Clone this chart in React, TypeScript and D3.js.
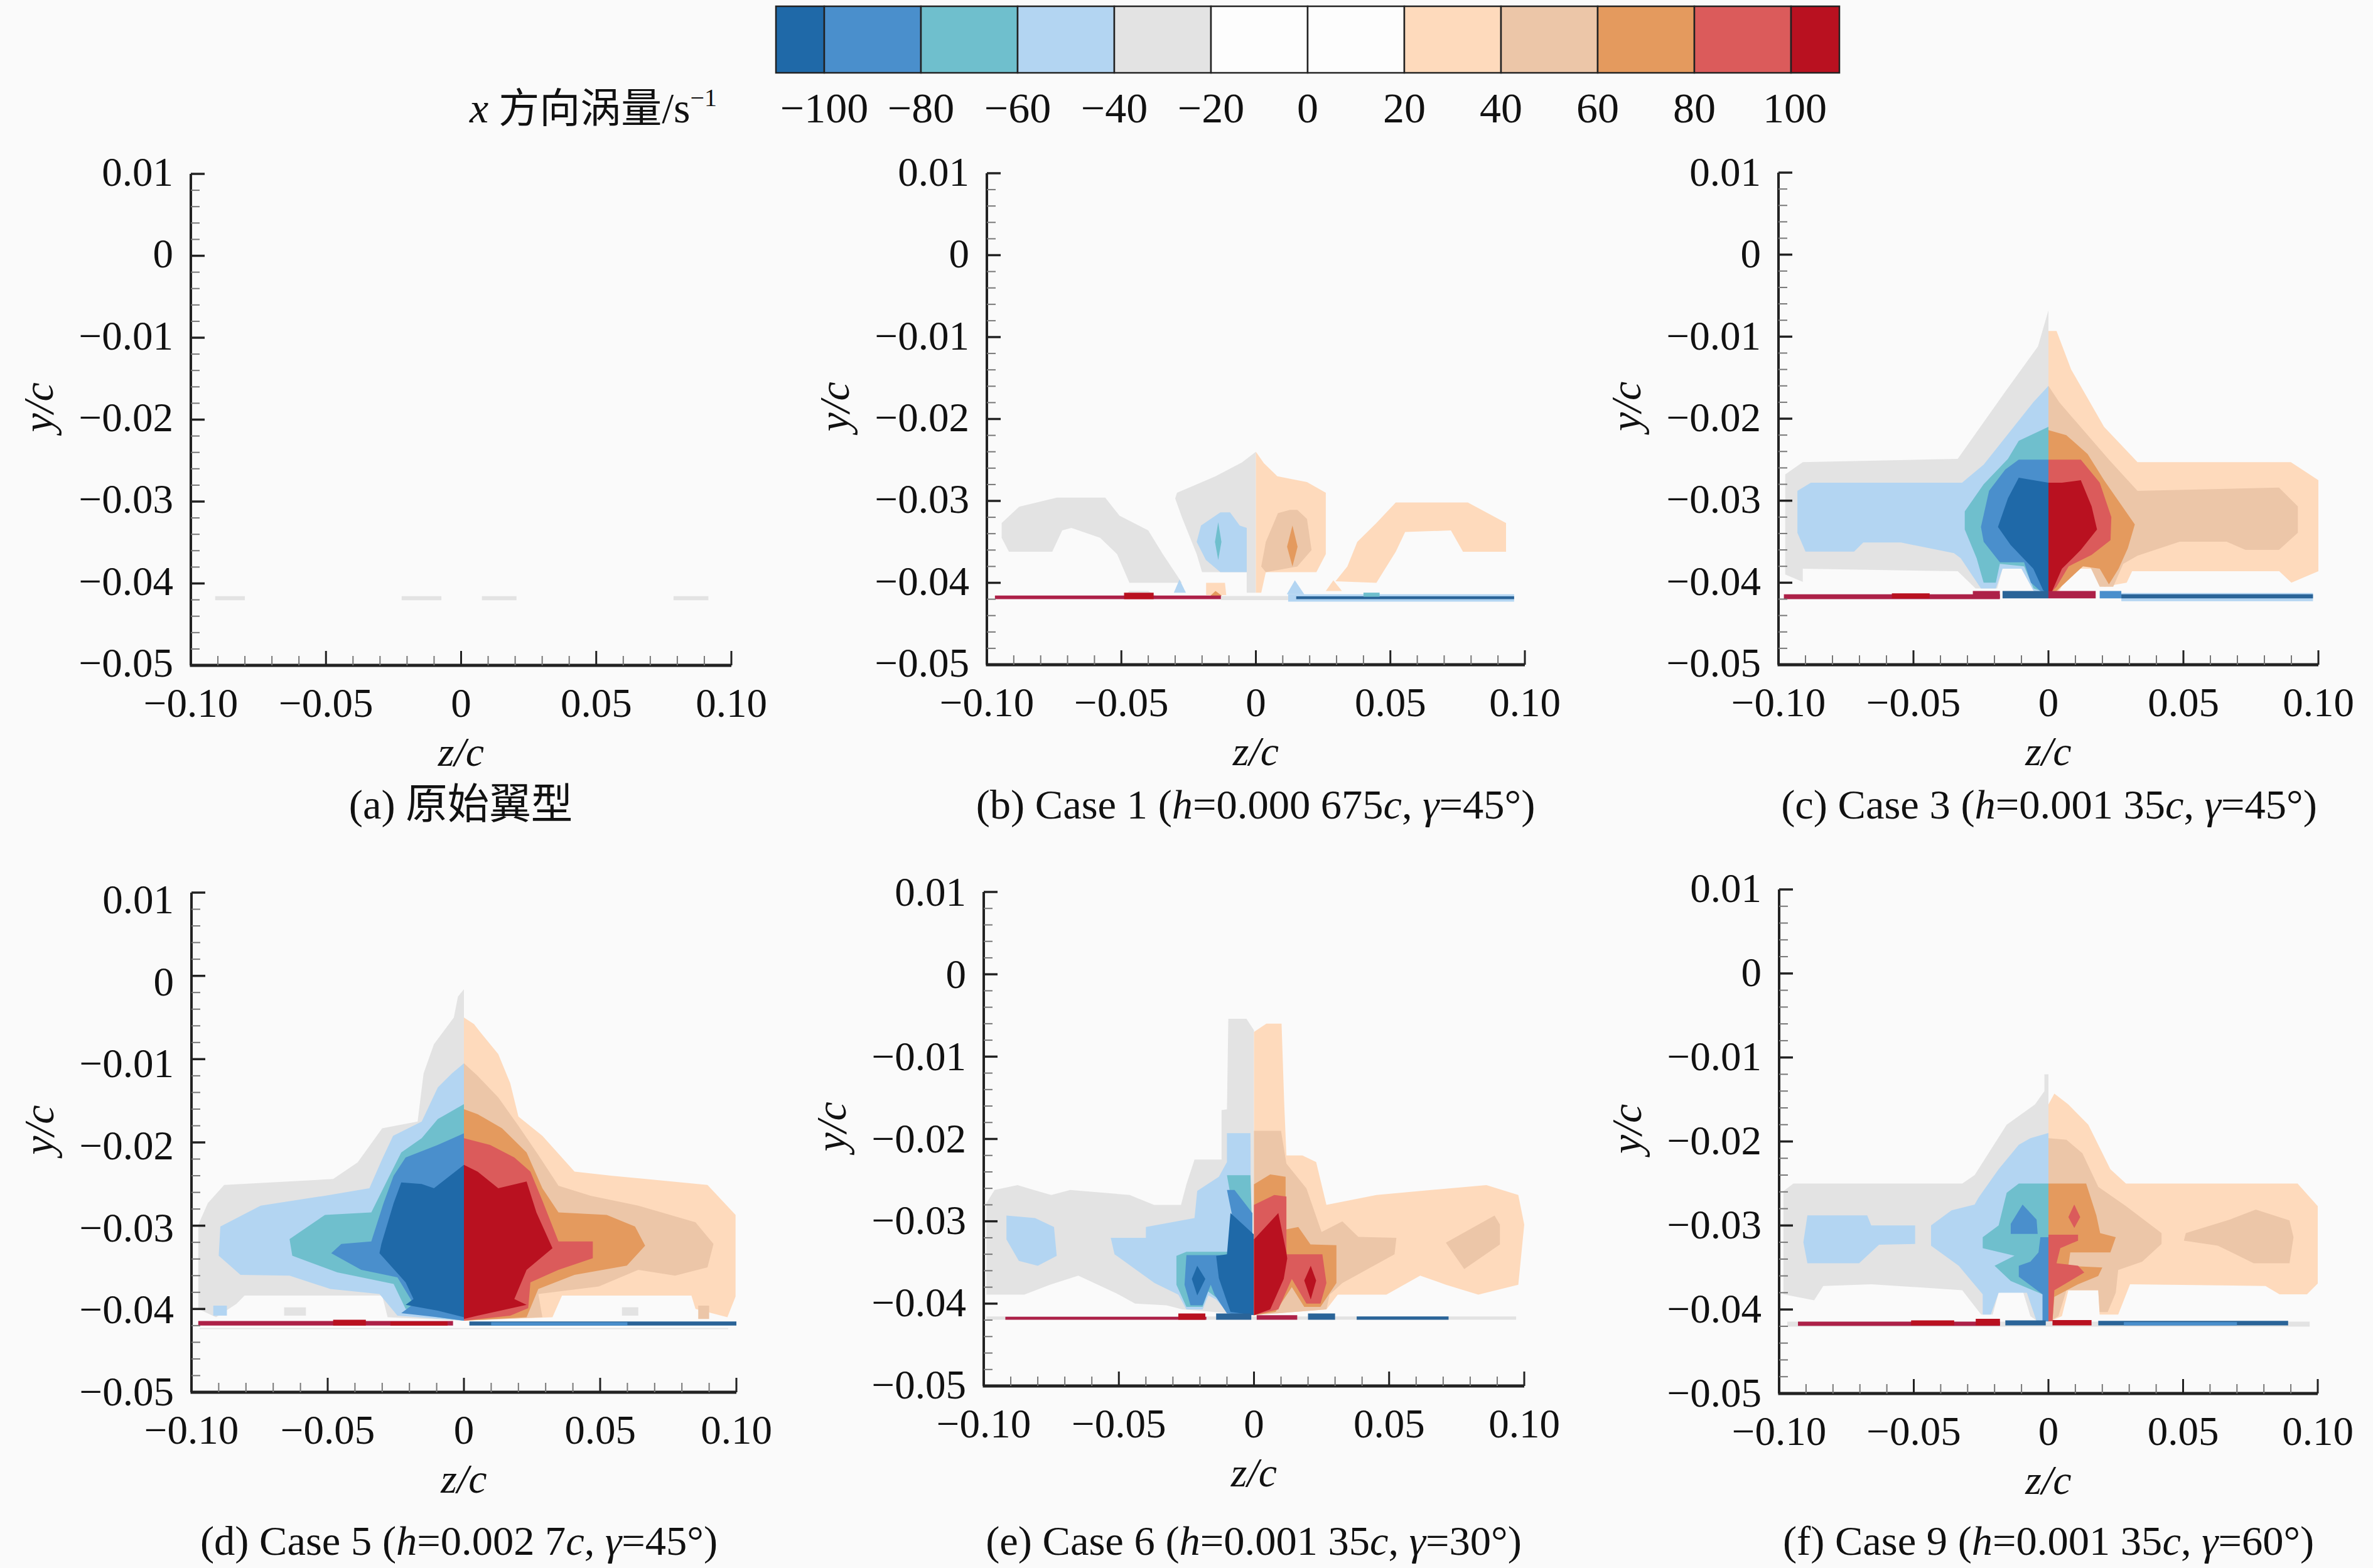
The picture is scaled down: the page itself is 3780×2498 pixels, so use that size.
import React from "react";
import * as d3 from "d3";

// ---------- colour levels (index = contour band) ----------
const levelColors = ["#1f69a8", "#4a8fcc", "#6fbfcd", "#b3d5f2", "#e3e3e3", "#fdfdfd", "#fdfdfd", "#fedabc", "#ecc6a8", "#e49a5e", "#db5b5b", "#b91120", "#ad2148", "#2a6498"];
const levelBounds = [-110, -100, -80, -60, -40, -20, 0, 20, 40, 60, 80, 100, 110];
const legendTicks = [-100, -80, -60, -40, -20, 0, 20, 40, 60, 80, 100];
const xTicksMajor = [-0.1, -0.05, 0, 0.05, 0.1];
const xTickLabels = ["−0.10", "−0.05", "0", "0.05", "0.10"];
const yTicksMajor = [0.01, 0, -0.01, -0.02, -0.03, -0.04, -0.05];
const yTickLabels = ["0.01", "0", "−0.01", "−0.02", "−0.03", "−0.04", "−0.05"];

type Contour = [number, number[][]];
type Band = [number, number, number, number, number];

// contour polygons: [band, [[z, y] in units of 0.001 ...]]
const contoursA: Contour[] = [];
const wallA: Band[] = [[4, -91, -80, -41.55, -42.05], [4, -22, -7.3, -41.55, -42.05], [4, 7.7, 20.5, -41.55, -42.05], [4, 78.6, 91.5, -41.55, -42.05]];

const contoursB: Contour[] = [
  [4, [[0, -24], [-5.2, -25.3], [-15, -27], [-29.3, -29], [-30, -29.7], [-27.5, -32], [-22, -36.5], [-20, -38.7], [-3.4, -38.7], [-3.4, -41.2], [0, -41.2]]],
  [4, [[-94.5, -32.7], [-88, -30.7], [-74, -29.6], [-56, -29.6], [-50.7, -31.8], [-40, -33.6], [-34.6, -36.5], [-27.5, -40], [-47, -40], [-51.6, -36.5], [-57.9, -34.5], [-68.6, -33.3], [-72, -33.6], [-75.7, -36.2], [-91.8, -36.2], [-94.5, -34.5]]],
  [4, [[-47, -41], [-40, -41], [-37, -41.6], [-49, -41.6]]],
  [3, [[-13.2, -31.4], [-20.4, -33], [-22, -35], [-18.6, -37.2], [-13.2, -38.7], [-3.4, -38.7], [-3.4, -33.3], [-6, -33], [-9.6, -31.4]]],
  [2, [[-14, -32.6], [-12.8, -35], [-14, -37.2], [-15.2, -35]]],
  [3, [[-28.4, -39.6], [-26, -41.2], [-30.5, -41.2]]],
  [7, [[-18.5, -41.5], [-18.5, -40], [-11.5, -40], [-11, -41.5]]],
  [9, [[-17, -41.6], [-15, -41], [-12.5, -41.6]]],
  [7, [[0, -24], [3, -25.4], [8, -27], [19, -27.7], [26, -29], [26, -36.5], [22.5, -38.7], [3.7, -38.7], [2, -41.2], [0, -41.2]]],
  [7, [[29.6, -39.8], [34, -38], [37.7, -35], [44.8, -32.7], [52, -30.2], [78.8, -30.2], [93, -32.7], [93, -36.2], [77, -36.2], [72.5, -33.6], [55.5, -33.8], [52, -36.2], [44.8, -40]]],
  [8, [[12.7, -31.1], [8.2, -31.5], [3.7, -35], [2, -38], [3.7, -38.7], [15.4, -38], [20.7, -36], [19, -32.2], [15.4, -31.1]]],
  [9, [[13.6, -33], [15.5, -35.6], [13.6, -38], [11.6, -35.6]]],
  [3, [[14.5, -39.7], [18, -41.4], [11.5, -41.4]]],
  [7, [[28.8, -39.7], [32, -41], [26, -41]]],
];
const wallB: Band[] = [[3, 12, 96, -41.4, -42.3], [4, -13, 12, -41.6, -42.1], [12, -97, -13, -41.55, -42.0], [11, -49, -38, -41.2, -42.0], [13, 15, 96, -41.65, -42.0], [2, 40, 46, -41.2, -41.7]];

const contoursC: Contour[] = [
  [4, [[0, -6.8], [-3.9, -11.2], [-16, -16.7], [-33.6, -24.9], [-91, -25.3], [-97.5, -26.8], [-97.5, -39], [-91, -39.9], [-91, -38.3], [-33.6, -38.6], [-27, -40.7], [-19, -40.7], [-17, -38.3], [-10, -38.3], [-5, -41], [0, -41.5]]],
  [3, [[0, -16], [-5.6, -18], [-24, -25.6], [-32, -27.8], [-88, -27.8], [-93, -28.8], [-93, -33.9], [-90, -36.2], [-72, -36.2], [-68.6, -35.1], [-54.6, -35.1], [-35, -36.4], [-32.5, -37], [-25, -40.7], [-19.5, -40.7], [-17, -38.3], [-10, -38.3], [-5.5, -41], [0, -41.5]]],
  [2, [[0, -21], [-11, -22.7], [-15, -24.9], [-24, -28], [-31, -31.3], [-31, -33.5], [-26.6, -37], [-24, -40], [-19.5, -40], [-18, -37.7], [-9, -38], [-5.5, -40.7], [0, -41.3]]],
  [1, [[0, -25], [-11, -25], [-16, -26.2], [-22, -28.8], [-25, -33.2], [-24, -35], [-18, -37.5], [-9, -37.5], [-6.5, -40], [-3, -41], [0, -41.3]]],
  [0, [[0, -27.8], [-11, -27.2], [-15, -29.7], [-18.7, -33.2], [-14, -35.4], [-5.6, -38.3], [-2, -40.9], [0, -41.4]]],
  [7, [[0, -9.3], [3, -9.3], [8.4, -14], [20.6, -21], [33, -25.3], [89.8, -25.3], [100, -27.5], [100, -38.6], [90, -40], [85.5, -38.6], [31, -38.6], [29, -40], [20.6, -40.5], [17, -38.3], [8.4, -38.3], [4, -41], [0, -41.5]]],
  [8, [[0, -16], [4, -18], [22.4, -25], [33, -28.8], [85.4, -28.4], [92.4, -30.7], [92.4, -33.9], [85.4, -36], [73, -36], [66, -35], [48.6, -35], [33, -36.7], [27.7, -37.7], [24, -40.5], [19, -40.5], [15.4, -38], [8.4, -38], [3.5, -41], [0, -41.5]]],
  [9, [[0, -21.4], [6.6, -22], [14.5, -24.3], [20.6, -27.5], [32, -32.9], [29.4, -35.8], [26, -38.3], [22.4, -40.2], [19, -38.3], [12.8, -38], [3, -41], [0, -41.5]]],
  [10, [[0, -25], [12, -25], [19, -27.8], [23.3, -32], [23, -34.8], [16, -36.6], [7.5, -38], [3, -40.5], [0, -41.5]]],
  [11, [[0, -27.8], [5, -27.8], [12, -27.5], [16, -30.7], [18, -33.5], [12, -36], [5, -38.3], [1.4, -41], [0, -41.4]]],
];
const wallC: Band[] = [[3, 27, 98, -41.25, -42.25], [12, -98, -18, -41.4, -42.0], [11, -58, -44, -41.3, -41.9], [12, -28, -18, -41.0, -41.9], [13, -17, 0, -41.0, -41.9], [12, 0, 17.5, -41.0, -41.9], [1, 19, 27, -41.0, -41.9], [13, 27, 98, -41.4, -41.9]];

const contoursD: Contour[] = [
  [4, [[0, -1.6], [-2.2, -2.5], [-3.7, -5], [-11, -8.2], [-14.8, -11.7], [-17, -17.5], [-30, -18.3], [-39, -22.4], [-48, -24.4], [-88, -25.1], [-94, -27.3], [-97.5, -29.9], [-97.5, -40], [-91, -41], [-83.5, -39.4], [-80.5, -38.4], [-30, -38.4], [-28, -41], [0, -41.4]]],
  [3, [[0, -10.5], [-4.4, -11.7], [-9.6, -13.4], [-15.5, -17.5], [-26, -19.2], [-30, -22], [-34.7, -25.5], [-51, -26.4], [-74.6, -27.6], [-89.4, -30.1], [-90, -33.6], [-82, -35.9], [-64, -36], [-49, -37.6], [-31, -38.2], [-24.4, -40.8], [0, -41.4]]],
  [2, [[0, -15.4], [-9.6, -17.2], [-15.5, -19.5], [-23, -21.2], [-27.3, -24], [-34, -28.4], [-51, -28.7], [-64, -31.6], [-63, -33.6], [-46.5, -35.6], [-25.8, -37], [-21.4, -40], [-9.6, -41], [0, -41.4]]],
  [1, [[0, -18.9], [-9.6, -20.3], [-21.4, -21.8], [-25.8, -24], [-29.5, -27.3], [-34, -31.9], [-45, -32.2], [-48.7, -33.3], [-37.7, -35.3], [-24.4, -36.2], [-18.5, -39.4], [-23, -40.5], [-9.6, -41], [0, -41.4]]],
  [0, [[0, -22.7], [-11, -25.5], [-15.5, -25], [-23, -24.8], [-25.8, -27.3], [-30.3, -32.2], [-31, -33.3], [-21.4, -36.8], [-18.5, -38.8], [-21.4, -39.5], [-9.6, -40.2], [0, -41]]],
  [7, [[0, -5], [3.7, -5.8], [6.6, -7], [12.6, -9.4], [17, -12.9], [20, -16.9], [28.8, -19.2], [40.6, -23.5], [54, -24], [89.4, -25.1], [99.7, -28.7], [99.7, -38.5], [96.7, -41], [85, -40], [83.5, -38.4], [36, -38.4], [32.5, -41], [0, -41.4]]],
  [8, [[0, -10.5], [5, -12], [12.6, -14.6], [20, -18], [27.3, -21.5], [34.7, -25.2], [46.5, -26.4], [64, -27.6], [85, -29.6], [91.6, -32.2], [89.4, -35], [77.5, -36], [64, -35.3], [49.5, -37.3], [27.3, -38.2], [28.8, -41], [0, -41.4]]],
  [9, [[0, -16], [5, -16.6], [14, -18.3], [23, -21.2], [28.8, -25.5], [34.7, -28.4], [52.4, -28.7], [62.8, -30.1], [66.5, -32.4], [59.8, -34.8], [40.6, -35.9], [27.3, -37.6], [23, -41], [0, -41.4]]],
  [10, [[0, -19.5], [9.6, -20.3], [18.5, -21.8], [24.4, -23.5], [28.8, -27], [34.7, -31.9], [47.3, -31.9], [47.3, -33.9], [34.7, -35.3], [24.4, -36.8], [23.6, -39.9], [17, -40.8], [0, -41.4]]],
  [11, [[0, -22.7], [5, -23.5], [12.6, -25.5], [23, -24.7], [26.6, -28.4], [32.5, -32.7], [23, -35.3], [18.5, -38.8], [23, -39.5], [5, -40.8], [0, -41.2]]],
  [3, [[-92, -39.6], [-87, -39.6], [-87, -40.8], [-92, -40.8]]],
  [4, [[-66, -39.8], [-58, -39.8], [-58, -40.8], [-66, -40.8]]],
  [4, [[58, -39.8], [64, -39.8], [64, -40.8], [58, -40.8]]],
  [8, [[86, -39.6], [90, -39.6], [90, -41.2], [86, -41.2]]],
];
const wallD: Band[] = [[4, -97, 97, -42.3, -42.42], [12, -97.5, -4, -41.45, -42], [11, -48, -36, -41.3, -42], [11, -27, -6, -41.5, -42], [13, 2, 100, -41.5, -42], [1, 10, 60, -41.6, -42]];

const contoursE: Contour[] = [
  [4, [[-9.5, -5.4], [-2.8, -5.4], [0, -6.8], [0, -41.4], [-26.5, -40.7], [-32.4, -40.2], [-44, -40], [-50, -38.9], [-65, -36.6], [-75.5, -37.7], [-85, -38.9], [-99, -38.9], [-99, -27.8], [-96, -26.2], [-87.5, -25.6], [-81.5, -26.2], [-75, -26.8], [-68, -26.2], [-46, -26.8], [-37, -28], [-27, -28], [-25, -25.5], [-22, -22.5], [-12, -22.5], [-12, -16.5], [-10, -16.4]]],
  [3, [[-91.6, -29.3], [-81, -29.6], [-74, -30.7], [-73, -34.2], [-80, -35.4], [-87, -34.8], [-91.6, -32.2]]],
  [3, [[-10, -19.3], [-1.3, -19.3], [-1, -41.2], [-10, -41], [-14, -39.5], [-16.9, -39], [-19, -40.7], [-25, -40.7], [-28, -38.9], [-36.8, -37.5], [-51.6, -34], [-53, -32], [-40, -32], [-40, -30.7], [-22, -29.6], [-21, -26.3], [-13, -24.6], [-10, -22.8]]],
  [2, [[-10, -24.4], [-1.3, -24.4], [-0.6, -32], [-10, -33.7], [-25, -33.7], [-28.7, -34.2], [-28.7, -37.7], [-25, -40.4], [-19, -40.4], [-17, -38.5], [-13, -39.5], [-10, -41], [-1, -41]]],
  [1, [[-10, -26.2], [-7.2, -26.2], [-0.6, -29], [-0.6, -34.1], [-25, -34.1], [-25.7, -37.7], [-23.5, -40.2], [-19, -40.2], [-16, -37.7], [-14.6, -38.9], [-10, -41.2], [-0.6, -41.4]]],
  [0, [[-8.7, -29], [0, -31.6], [0, -41.4], [-8.7, -41], [-13, -36.9], [-14, -34.2], [-10, -34]]],
  [0, [[-21, -35.4], [-18, -37], [-21, -39], [-23, -37]]],
  [7, [[0, -7], [4.6, -6], [10.2, -6], [11.2, -15.8], [12, -22], [17.9, -22], [23, -22.8], [26.8, -28], [45.3, -26.8], [86, -25.6], [97.8, -26.8], [100, -30.4], [97.8, -37.7], [83, -38.9], [71, -37.7], [61.5, -36.6], [49, -38.9], [31, -38.9], [26.8, -40.7], [0, -41.4]]],
  [8, [[0, -19], [10, -19], [12, -23], [19.4, -26], [25, -31.3], [32.7, -30], [38.6, -31.9], [52.7, -32], [52, -34], [32.7, -37.5], [28, -38.9], [26.8, -40.7], [0, -41.4]]],
  [8, [[89, -29.3], [91, -30.4], [91, -32.8], [77.8, -35.8], [71, -32.6]]],
  [9, [[0, -25.5], [6, -24.3], [11.7, -24.6], [11.7, -31], [16.4, -30.7], [20.9, -32.8], [30.5, -32.9], [30.5, -37.5], [24.6, -40.4], [18.6, -40.4], [14, -38], [8, -41], [0, -41.4]]],
  [10, [[0, -28], [7.5, -26.8], [12, -27], [12, -34], [25.3, -34], [26.8, -37.5], [24.6, -40], [19.4, -40], [14, -37], [9, -40.7], [0, -41.4]]],
  [11, [[0, -32.2], [9, -29], [12, -33.8], [12.3, -34.5], [11, -37], [6, -40.7], [0, -41.4]]],
  [11, [[21, -35.4], [23, -37.2], [21, -39.5], [18.6, -37.2]]],
];
const wallE: Band[] = [[4, -99, 97, -41.55, -41.95], [12, -92, -17.6, -41.6, -41.95], [11, -28, -18, -41.2, -41.95], [13, -14, -1, -41.2, -41.95], [12, 1, 16, -41.4, -41.95], [13, 20, 30, -41.2, -41.95], [13, 38, 72, -41.55, -41.95]];

const contoursF: Contour[] = [
  [4, [[-1.5, -12], [0, -12], [0, -41.5], [-4, -41.4], [-6.7, -40.8], [-9.6, -37.7], [-18.5, -38], [-20.7, -40.6], [-25, -40.6], [-32, -37.7], [-65.8, -37], [-83.6, -37.2], [-87, -38.9], [-98.4, -38.2], [-98.4, -25.9], [-94.7, -25], [-32, -25], [-27.4, -24], [-15.5, -18], [-5, -15.6], [-1.5, -14]]],
  [3, [[0, -19], [-6.7, -19.6], [-11, -20.4], [-18.5, -23.3], [-26, -26.7], [-27.4, -27.5], [-36, -28.2], [-43.6, -30], [-43.6, -32.4], [-33.3, -34.8], [-24.4, -38.2], [-24.4, -40.6], [-21.4, -40.6], [-18.5, -38], [-8, -38], [-4.4, -41.4], [0, -41.5]]],
  [3, [[-89.5, -28.8], [-67.3, -28.8], [-65.8, -30], [-49.5, -30], [-49.5, -32.2], [-62.9, -32.3], [-70.3, -34.5], [-89.5, -34.5], [-91, -32]]],
  [2, [[0, -25], [-11, -25], [-15.5, -26.1], [-18.5, -30], [-24.4, -31.4], [-24.4, -32.7], [-12.6, -33.6], [-20, -34.8], [-14, -36.6], [-2.2, -38.2], [0, -38.2]]],
  [1, [[-9.6, -27.5], [-4.4, -29.3], [-4, -31], [-14, -31], [-14, -29.8]]],
  [1, [[0, -31.4], [-3, -31.4], [-3.7, -33.2], [-6.7, -34.3], [-11, -34.8], [-11, -36.1], [-2.2, -38.2], [-2.2, -41.4], [0, -41.4]]],
  [7, [[0, -15.6], [2.2, -14.3], [7.4, -15.6], [14.8, -18], [23, -23.3], [28.8, -25], [92.5, -25], [100, -27.7], [100, -36.9], [96, -38.2], [85.8, -38.2], [80.6, -37.2], [30.3, -37], [25.9, -40.6], [19, -40.6], [18.5, -37.7], [7.4, -37.7], [5, -40.8], [0, -41.5]]],
  [8, [[0, -19.6], [6.7, -19.8], [12.6, -21.4], [18.5, -25.4], [28.8, -27.7], [42, -30.9], [42, -32.2], [34.8, -34.3], [25.9, -35.3], [25, -38], [22, -40.3], [19, -40.3], [18.5, -37.7], [6.7, -37.7], [3.7, -40.8], [0, -41.5]]],
  [8, [[77, -28.1], [89.5, -29.4], [91, -31.4], [89.5, -34.5], [76.2, -34.5], [62.9, -32.4], [50.3, -31.8], [51, -30.9], [67.3, -29.3]]],
  [9, [[0, -25], [14, -25], [17.8, -28.8], [19.2, -30.9], [25, -31.4], [23, -33.2], [8.1, -33.2], [7.4, -34.8], [20, -35], [18.5, -36], [11, -37], [2.2, -38.5], [1.5, -41.4], [0, -41.4]]],
  [10, [[9.6, -27.5], [11.8, -29], [9.6, -30.3], [7.4, -29]]],
  [10, [[0, -31.1], [11, -31.1], [11, -31.8], [4.4, -32.7], [3, -34.5], [11, -34.8], [13.3, -35.6], [8, -36.6], [2.2, -37.7], [1.5, -41.4], [0, -41.4]]],
];
const wallF: Band[] = [[4, -97, 97, -41.45, -42.05], [12, -93, -18, -41.45, -41.95], [11, -51, -35, -41.3, -41.9], [11, -27, -18, -41.1, -41.9], [13, -16, -1, -41.3, -41.9], [11, 1.5, 16, -41.25, -41.9], [13, 18.5, 89, -41.35, -41.9], [1, 28, 70, -41.5, -41.9]];

type CaptionPart = [string, boolean];
const captionA: CaptionPart[] = [["(a) 原始翼型", false]];
const captionB: CaptionPart[] = [["(b) Case 1 (", false], ["h", true], ["=0.000 675", false], ["c", true], [", ", false], ["γ", true], ["=45°)", false]];
const captionC: CaptionPart[] = [["(c) Case 3 (", false], ["h", true], ["=0.001 35", false], ["c", true], [", ", false], ["γ", true], ["=45°)", false]];
const captionD: CaptionPart[] = [["(d) Case 5 (", false], ["h", true], ["=0.002 7", false], ["c", true], [", ", false], ["γ", true], ["=45°)", false]];
const captionE: CaptionPart[] = [["(e) Case 6 (", false], ["h", true], ["=0.001 35", false], ["c", true], [", ", false], ["γ", true], ["=30°)", false]];
const captionF: CaptionPart[] = [["(f) Case 9 (", false], ["h", true], ["=0.001 35", false], ["c", true], [", ", false], ["γ", true], ["=60°)", false]];

const panels = [
  { x0: 304, x1: 1165, y0: 277, y1: 1060, ly0: 274, ly1: 1056, capX: 734, capY: 1304, contours: contoursA, wall: wallA, caption: captionA },
  { x0: 1572, x1: 2429, y0: 276, y1: 1059, ly0: 274, ly1: 1056, capX: 2000, capY: 1304, contours: contoursB, wall: wallB, caption: captionB },
  { x0: 2833, x1: 3693, y0: 275, y1: 1059, ly0: 274, ly1: 1056, capX: 3264, capY: 1304, contours: contoursC, wall: wallC, caption: captionC },
  { x0: 305, x1: 1173, y0: 1422, y1: 2218, ly0: 1433, ly1: 2217, capX: 731, capY: 2477, contours: contoursD, wall: wallD, caption: captionD },
  { x0: 1567, x1: 2428, y0: 1421, y1: 2208, ly0: 1421, ly1: 2206, capX: 1997, capY: 2477, contours: contoursE, wall: wallE, caption: captionE },
  { x0: 2834, x1: 3692, y0: 1417, y1: 2220, ly0: 1415, ly1: 2219, capX: 3263, capY: 2477, contours: contoursF, wall: wallF, caption: captionF },
];

const SERIF = "'Liberation Serif', 'Noto Sans CJK SC', serif";
const CJK = "'Noto Sans CJK SC', sans-serif";
const FS = 65;

function Panel({ p }: { p: (typeof panels)[number] }) {
  const x = d3.scaleLinear().domain([-0.1, 0.1]).range([p.x0, p.x1]);
  const y = d3.scaleLinear().domain([0.01, -0.05]).range([p.y0, p.y1]);
  const yLabel = d3.scaleLinear().domain([0.01, -0.05]).range([p.ly0, p.ly1]);
  const line = d3.line<number[]>().x((d) => x(d[0] / 1000)).y((d) => y(d[1] / 1000));
  const xMinor = d3.range(-10, 10.5, 1).map((v) => v / 100).filter((v) => Math.round(v * 1000) % 50 !== 0);
  const yMinor = d3.range(-25, 5.5, 1).map((v) => v / 500).filter((v) => Math.round(v * 1000) % 10 !== 0);
  const cx = x(0);
  return (
    <g>
      {p.contours.map((c, i) => (
        <path key={i} d={line(c[1]) + "Z"} fill={levelColors[c[0]]} />
      ))}
      {p.wall.map((b, i) => (
        <path
          key={i}
          d={line([[b[1], b[3]], [b[2], b[3]], [b[2], b[4]], [b[1], b[4]]]) + "Z"}
          fill={levelColors[b[0]]}
        />
      ))}
      <line x1={p.x0 - 1.5} x2={p.x1} y1={p.y1} y2={p.y1} stroke="#222" strokeWidth={5} />
      <line x1={p.x0} x2={p.x0} y1={p.y0} y2={p.y1} stroke="#222" strokeWidth={4} />
      {xMinor.map((v) => (
        <line key={v} x1={x(v)} x2={x(v)} y1={p.y1} y2={p.y1 - 15} stroke="#777" strokeWidth={2} />
      ))}
      {yMinor.map((v) => (
        <line key={v} x1={p.x0} x2={p.x0 + 14} y1={y(v)} y2={y(v)} stroke="#777" strokeWidth={2} />
      ))}
      {xTicksMajor.map((v, i) => (
        <g key={v}>
          <line x1={x(v)} x2={x(v)} y1={p.y1} y2={p.y1 - 23} stroke="#222" strokeWidth={3} />
          <text x={x(v)} y={p.y1 + 82} textAnchor="middle" fontFamily={SERIF} fontSize={FS} fill="#111">
            {xTickLabels[i]}
          </text>
        </g>
      ))}
      {yTicksMajor.map((v, i) => (
        <g key={v}>
          <line x1={p.x0} x2={p.x0 + 22} y1={y(v)} y2={y(v)} stroke="#222" strokeWidth={3.5} />
          <text x={p.x0 - 28} y={yLabel(v) + 22} textAnchor="end" fontFamily={SERIF} fontSize={FS} fill="#111">
            {yTickLabels[i]}
          </text>
        </g>
      ))}
      <text x={cx} y={p.y1 + 160} textAnchor="middle" fontFamily={SERIF} fontStyle="italic" fontSize={66} fill="#111">
        z/c
      </text>
      <text
        transform={`translate(${p.x0 - 220},${y(-0.0185)}) rotate(-90)`}
        textAnchor="middle"
        fontFamily={SERIF}
        fontStyle="italic"
        fontSize={68}
        fill="#111"
      >
        y/c
      </text>
      <text x={p.capX} y={p.capY} textAnchor="middle" fontFamily={SERIF} fontSize={66.5} fill="#111">
        {p.caption.map((part, i) => (
          <tspan key={i} fontStyle={part[1] ? "italic" : "normal"}>
            {part[0]}
          </tspan>
        ))}
      </text>
    </g>
  );
}

export default function App() {
  const lx = d3.scaleLinear().domain([-100, 100]).range([1313, 2853]);
  const top = 10;
  const bottom = 116;
  return (
    <svg
      width={3780}
      height={2498}
      viewBox="0 0 3780 2498"
      style={{ position: "absolute", left: 0, top: 0, display: "block" }}
    >
      <rect width={3780} height={2498} fill="#fafafa" />
      {levelColors.slice(0, 12).map((c, i) => (
        <rect
          key={i}
          x={lx(levelBounds[i])}
          width={lx(levelBounds[i + 1]) - lx(levelBounds[i])}
          y={top}
          height={bottom - top}
          fill={c}
          stroke="#222"
          strokeWidth={2.5}
        />
      ))}
      {legendTicks.map((v) => (
        <text key={v} x={lx(v) + (v === 100 ? 6 : 0)} y={195} textAnchor="middle" fontFamily={SERIF} fontSize={68} fill="#111">
          {v < 0 ? "−" + -v : v}
        </text>
      ))}
      <text x={748} y={195} fontFamily={SERIF} fontSize={68} fill="#111">
        <tspan fontStyle="italic">x</tspan>
        <tspan fontFamily={CJK} fontSize={65} dx={16}>方向涡量</tspan>
        <tspan>/s</tspan>
        <tspan fontSize={40} dy={-26}>−1</tspan>
      </text>
      {panels.map((p, i) => (
        <Panel key={i} p={p} />
      ))}
    </svg>
  );
}
